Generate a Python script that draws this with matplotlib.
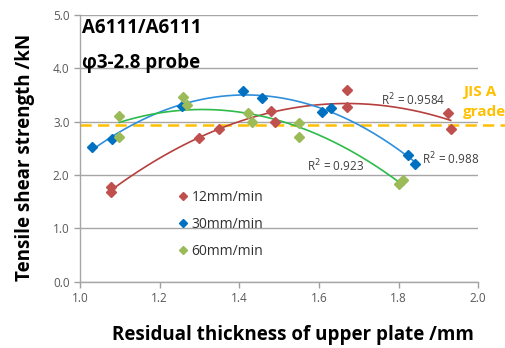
import numpy as np
import matplotlib
matplotlib.use("Agg")
import matplotlib.pyplot as plt

plt.rcParams['font.family'] = ['Open Sans', 'DejaVu Sans']

# Data
x12 = [1.078, 1.078, 1.300, 1.349, 1.479, 1.489, 1.670, 1.670, 1.923, 1.931]
y12 = [1.78, 1.68, 2.70, 2.87, 3.21, 2.99, 3.59, 3.28, 3.16, 2.86]
x30 = [1.030, 1.080, 1.256, 1.410, 1.458, 1.609, 1.630, 1.823, 1.841]
y30 = [2.52, 2.67, 3.29, 3.58, 3.44, 3.19, 3.25, 2.38, 2.21]
x60 = [1.099, 1.099, 1.260, 1.268, 1.421, 1.431, 1.550, 1.550, 1.802, 1.810]
y60 = [3.11, 2.72, 3.46, 3.31, 3.17, 3.00, 2.97, 2.72, 1.83, 1.91]
labels = ['12mm/min', '30mm/min', '60mm/min']
r2_labels = ['R$^2$ = 0.9584', 'R$^2$ = 0.988', 'R$^2$ = 0.923']
jis_level = 2.93
xticks = [1.0, 1.2, 1.4, 1.6, 1.8, 2.0]
yticks = [0.0, 1.0, 2.0, 3.0, 4.0, 5.0]

fig = plt.figure(figsize=(5.06, 3.48), dpi=100)
ax = fig.add_axes([0.158, 0.190, 0.787, 0.767])

mcolors = ['#c0504d', '#0070c0', '#9bbb59']
lcolors = ['#b5403d', '#2e8fdc', '#2dbb4a']
series = [(x12, y12), (x30, y30), (x60, y60)]

for (xs, ys), mc, lc, lab in zip(series, mcolors, lcolors, labels):
    xs = np.array(xs); ys = np.array(ys)
    p = np.polyfit(xs, ys, 2)
    xx = np.linspace(xs.min(), xs.max(), 200)
    ax.plot(xx, np.polyval(p, xx), color=lc, lw=1.2, zorder=3)
    ax.plot(xs, ys, 'D', color=mc, ms=5.5, mec=mc, lw=0, label=lab, zorder=4)

ax.axhline(jis_level, xmin=0, xmax=1.07, color='#ffc000', lw=1.8, ls=(0, (4.5, 2.5)), clip_on=False, zorder=2)

ax.set_xlim(1.0, 2.0)
ax.set_ylim(0.0, 5.0)
ax.set_xticks(xticks)
ax.set_yticks(yticks)
ax.set_xticklabels([f'{t:.1f}' for t in xticks])
ax.set_yticklabels([f'{t:.1f}' for t in yticks])
ax.tick_params(axis='both', colors='#a0a0a0', labelcolor='#595959', labelsize=8.5, length=4, width=1)
ax.grid(axis='y', color='#a6a6a6', lw=1)
ax.set_axisbelow(True)
for s in ['top', 'right']:
    ax.spines[s].set_visible(False)
for s in ['left', 'bottom']:
    ax.spines[s].set_color('#a6a6a6')
    ax.spines[s].set_linewidth(1)

ax.set_xlabel('Residual thickness of upper plate /mm', fontsize=13.5, fontweight='bold')
ax.xaxis.set_label_coords(0.535, -0.16)
ax.set_ylabel('Tensile shear strength /kN', fontsize=13.5, fontweight='bold')
ax.yaxis.set_label_coords(-0.113, 0.465)

ax.text(0.005, 0.953, 'A6111/A6111', transform=ax.transAxes, fontsize=13.5, fontweight='bold', va='center', ha='left')
ax.text(0.005, 0.82, 'φ3-2.8 probe', transform=ax.transAxes, fontsize=13.5, fontweight='bold', va='center', ha='left')

ax.text(1.757, 3.40, r2_labels[0], fontsize=8.5, color='#404040', va='center')
ax.text(1.86, 2.30, r2_labels[1], fontsize=8.5, color='#404040', va='center')
ax.text(1.57, 2.17, r2_labels[2], fontsize=8.5, color='#404040', va='center')

ax.text(1.962, 3.55, 'JIS A', fontsize=11, fontweight='bold', color='#ffc000', va='center', ha='left', clip_on=False)
ax.text(1.962, 3.18, 'grade', fontsize=11, fontweight='bold', color='#ffc000', va='center', ha='left', clip_on=False)

leg = ax.legend(loc='upper left', bbox_to_anchor=(0.21, 0.39), frameon=False, fontsize=10,
                handletextpad=0.1, handlelength=1.0, labelspacing=0.85, markerscale=0.8)
for t in leg.get_texts():
    t.set_color('#303030')

fig.savefig('out.png', dpi=100)
